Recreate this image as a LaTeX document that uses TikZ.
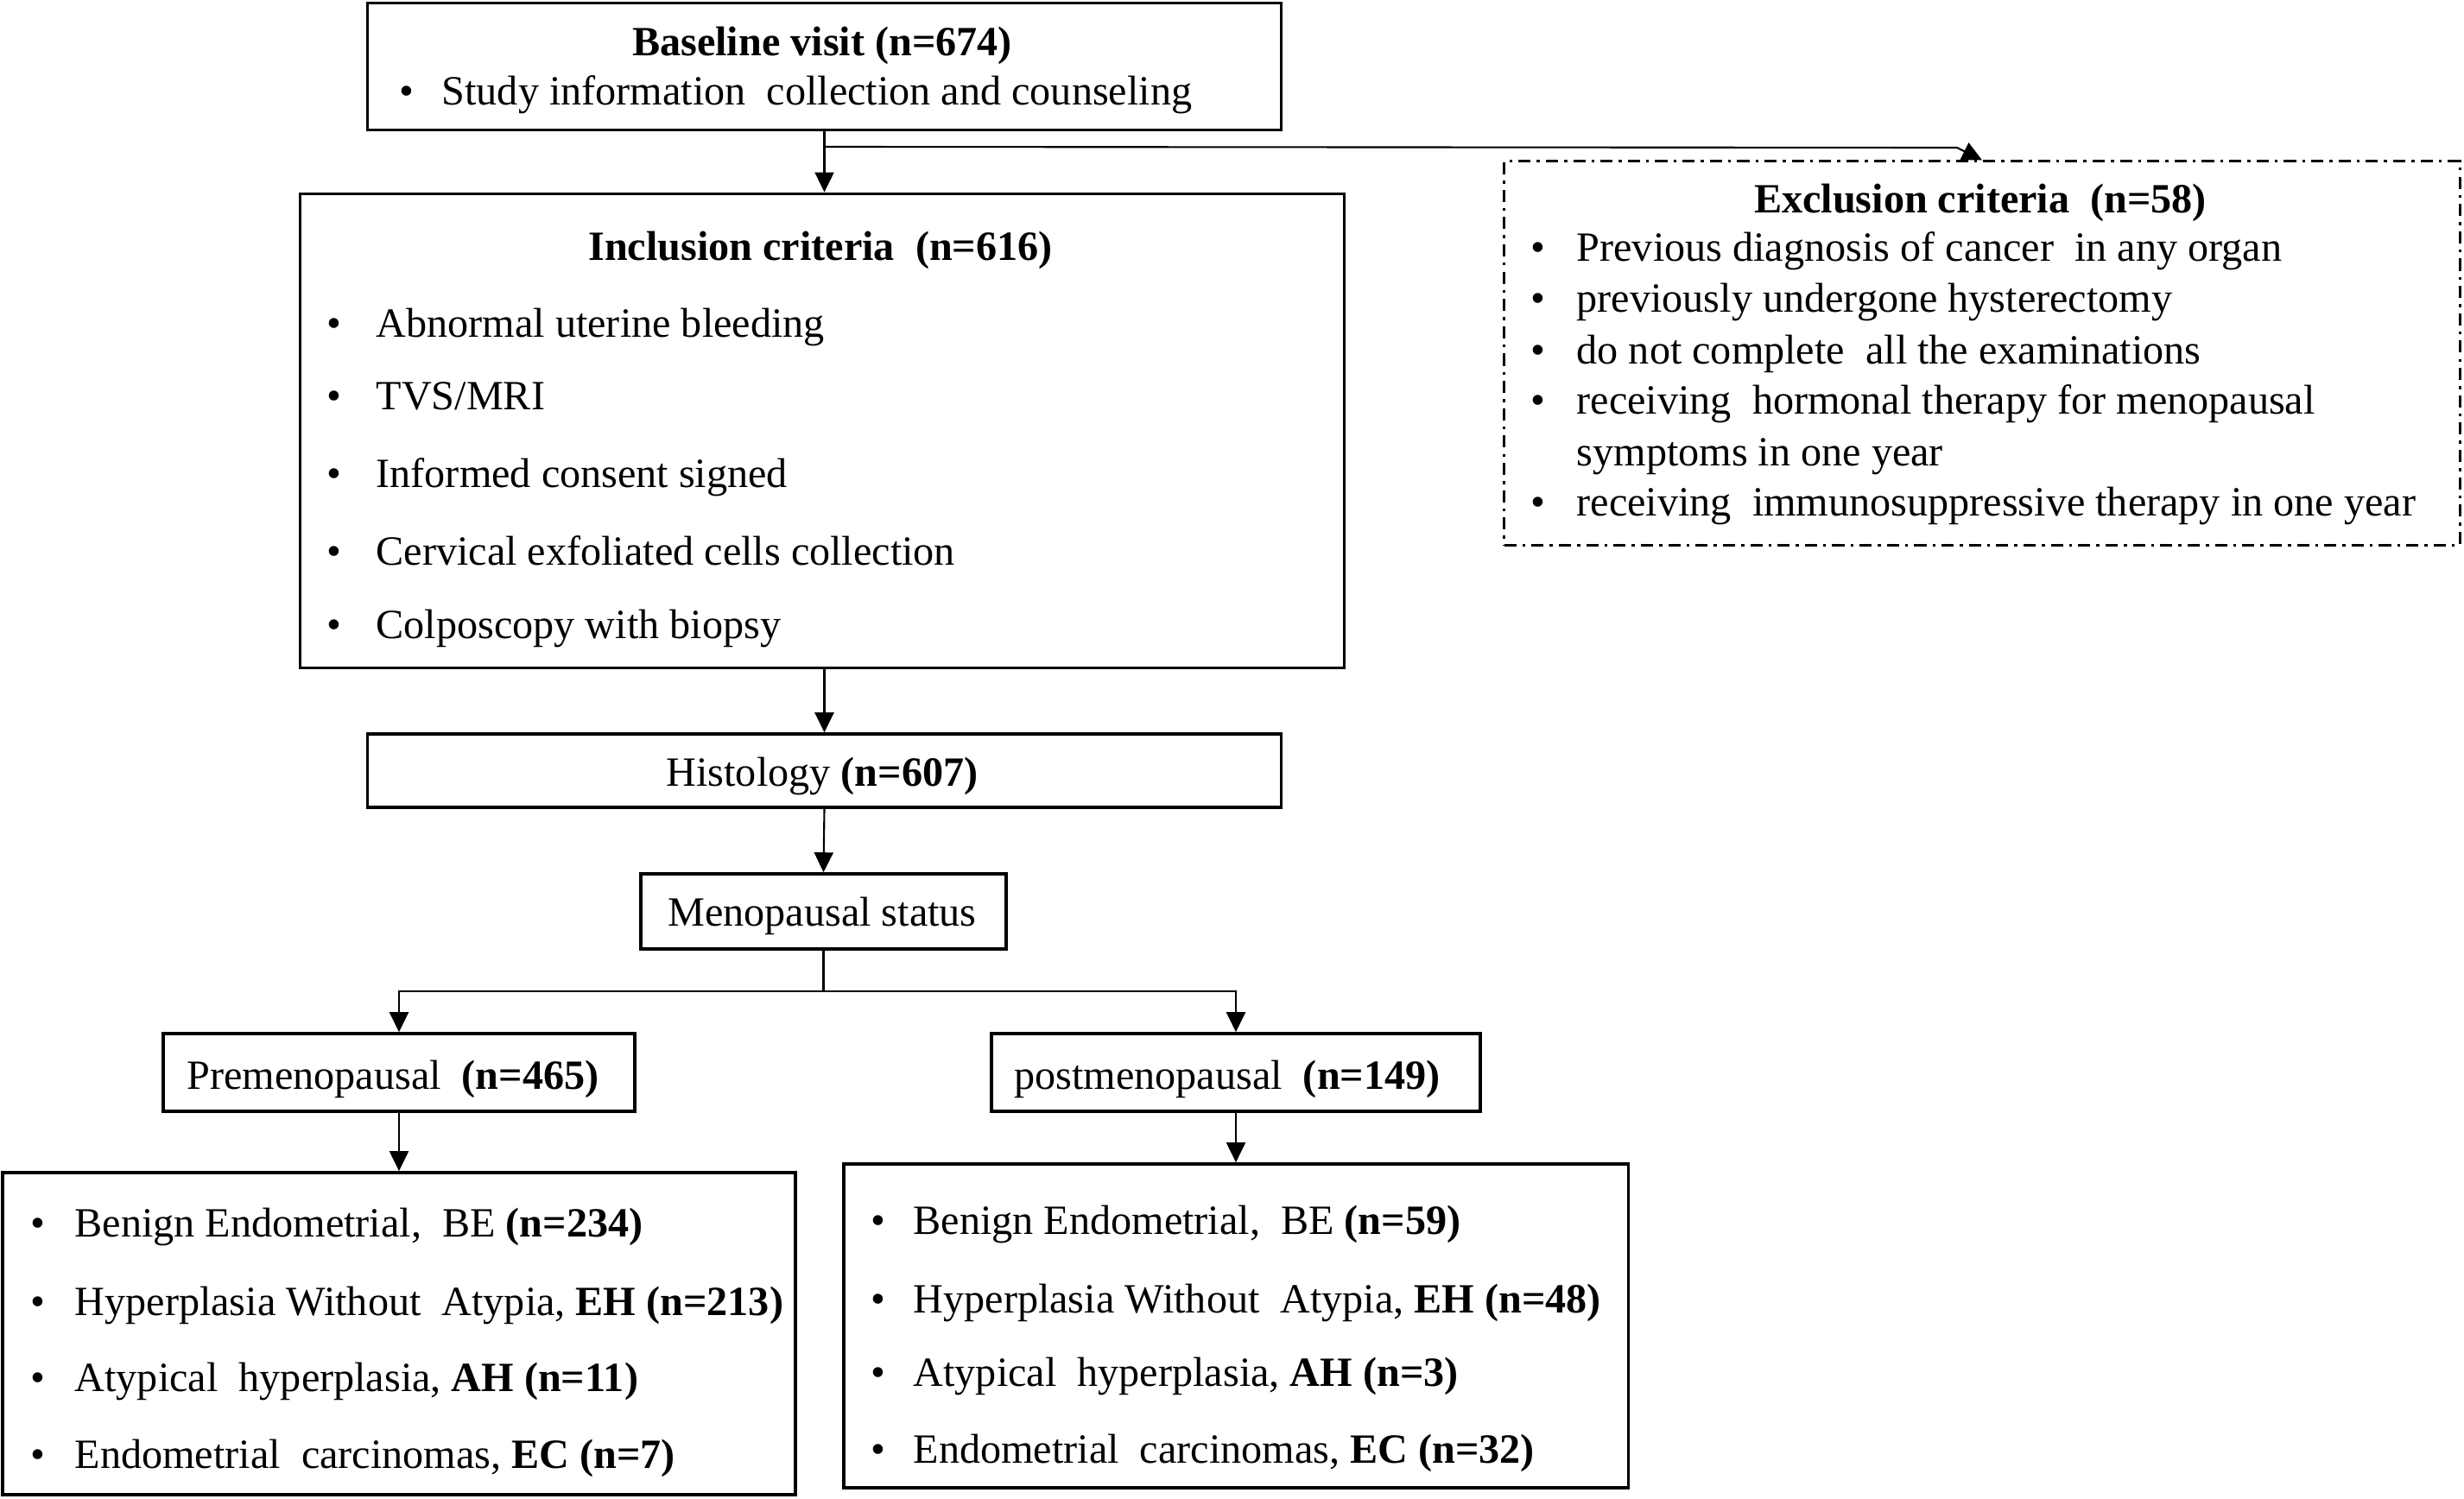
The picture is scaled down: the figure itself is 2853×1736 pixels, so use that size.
\documentclass[tikz,border=0pt]{standalone}
\usepackage{fontspec}
\setmainfont{Liberation Serif}
\usetikzlibrary{arrows.meta}
\newcommand{\bitem}[2]{\makebox[#1][l]{•}#2}
\begin{document}
\begin{tikzpicture}[x=0.01cm,y=-0.01cm,
  box/.style={draw, line width=1.0pt, inner sep=0pt},
  exbox/.style={draw, line width=0.8pt, inner sep=0pt, dash pattern=on 4pt off 2pt on 1pt off 2pt},
  txt/.style={anchor=mid west, inner sep=0pt, font=\fontsize{13.7}{16}\selectfont},
  ctxt/.style={anchor=mid, inner sep=0pt, font=\fontsize{13.7}{16}\selectfont},
  conn/.style={line width=0.6pt, -{Triangle[length=2.3mm,width=2.2mm]}},
  line/.style={line width=0.6pt}]
\useasboundingbox (0,0) rectangle (2853,1736);
% boxes
\node[box, minimum width=10.57cm, minimum height=1.47cm] (base) at (954.5,77) {};
\node[exbox, minimum width=11.06cm, minimum height=4.44cm] (excl) at (2295,409) {};
\node[box, minimum width=12.08cm, minimum height=5.49cm] (incl) at (952,499) {};
\node[box, minimum width=10.57cm, minimum height=0.85cm] (hist) at (954.5,892.5) {};
\node[box, minimum width=4.23cm, minimum height=0.87cm] (meno) at (953.5,1055.5) {};
\node[box, minimum width=5.46cm, minimum height=0.90cm] (pre) at (462,1242) {};
\node[box, minimum width=5.66cm, minimum height=0.90cm] (post) at (1431,1242) {};
\node[box, minimum width=9.17cm, minimum height=3.73cm] (prel) at (462,1544.5) {};
\node[box, minimum width=9.08cm, minimum height=3.75cm] (postl) at (1431,1535.5) {};
% texts: baseline
\node[ctxt] (t0) at (952,56) {\bfseries Baseline visit (n=674)};
\node[txt] (t1) at (462,113) {\bitem{0.49cm}{Study information~ collection and counseling}};
% inclusion
\node[ctxt] (i0) at (950,293) {\bfseries Inclusion criteria~ (n=616)};
\node[txt] (i1) at (378,382) {\bitem{0.57cm}{Abnormal uterine bleeding}};
\node[txt] (i2) at (378,466) {\bitem{0.57cm}{TVS/MRI}};
\node[txt] (i3) at (378,556) {\bitem{0.57cm}{Informed consent signed}};
\node[txt] (i4) at (378,646) {\bitem{0.57cm}{Cervical exfoliated cells collection}};
\node[txt] (i5) at (378,731) {\bitem{0.57cm}{Colposcopy with biopsy}};
% exclusion
\node[ctxt] (e0) at (2293,238) {\bfseries Exclusion criteria~ (n=58)};
\node[txt] (e1) at (1772,294) {\bitem{0.53cm}{Previous diagnosis of cancer~ in any organ}};
\node[txt] (e2) at (1772,353) {\bitem{0.53cm}{previously undergone hysterectomy}};
\node[txt] (e3) at (1772,413) {\bitem{0.53cm}{do not complete~ all the examinations}};
\node[txt] (e4) at (1772,471) {\bitem{0.53cm}{receiving~ hormonal therapy for menopausal}};
\node[txt] (e5) at (1825,531) {symptoms in one year};
\node[txt] (e6) at (1772,589) {\bitem{0.53cm}{receiving~ immunosuppressive therapy in one year}};
% histology, menopausal
\node[ctxt] (h0) at (952,902) {Histology \textbf{(n=607)}};
\node[ctxt] (m0) at (952,1064) {Menopausal status};
\node[ctxt] (p0) at (455,1253) {Premenopausal~ \textbf{(n=465)}};
\node[ctxt] (q0) at (1421,1253) {postmenopausal~ \textbf{(n=149)}};
% pre list
\node[txt] (a1) at (35,1424) {\bitem{0.51cm}{Benign Endometrial,~ BE \textbf{(n=234)}}};
\node[txt] (a2) at (35,1515) {\bitem{0.51cm}{Hyperplasia Without~ Atypia, \textbf{EH (n=213)}}};
\node[txt] (a3) at (35,1603) {\bitem{0.51cm}{Atypical~ hyperplasia, \textbf{AH (n=11)}}};
\node[txt] (a4) at (35,1692) {\bitem{0.51cm}{Endometrial~ carcinomas, \textbf{EC (n=7)}}};
% post list
\node[txt] (b1) at (1008,1421) {\bitem{0.49cm}{Benign Endometrial,~ BE \textbf{(n=59)}}};
\node[txt] (b2) at (1008,1512) {\bitem{0.49cm}{Hyperplasia Without~ Atypia, \textbf{EH (n=48)}}};
\node[txt] (b3) at (1008,1597) {\bitem{0.49cm}{Atypical~ hyperplasia, \textbf{AH (n=3)}}};
\node[txt] (b4) at (1008,1686) {\bitem{0.49cm}{Endometrial~ carcinomas, \textbf{EC (n=32)}}};
% connectors
\coordinate (jx) at (base.south |- 0,170);
\coordinate (bend) at (2266,171);
\draw[conn] (base.south) -- (base.south |- incl.north);
\draw[conn] (jx) -- (bend) -- (excl.north);
\draw[conn] (hist.north |- incl.south) -- (hist.north);
\draw[conn] (hist.south) -- (meno.north);
\coordinate (split) at (meno.south |- 0,1148);
\draw[line] (meno.south) -- (split);
\draw[conn] (split) -| (pre.north);
\draw[conn] (split) -| (post.north);
\draw[conn] (pre.south) -- (pre.south |- prel.north);
\draw[conn] (post.south) -- (post.south |- postl.north);
\end{tikzpicture}
\end{document}
